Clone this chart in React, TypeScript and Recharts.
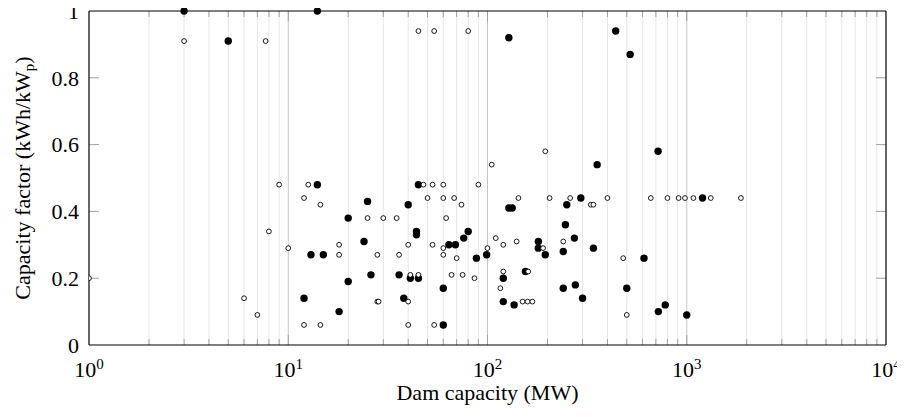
import React from 'react';
import { ScatterChart, Scatter, XAxis, YAxis, ReferenceLine, Label } from 'recharts';

// filled markers
const filledCapacity = [
  3, 5, 14, 128, 440, 520, 718, 355,
  14, 45, 25, 40, 20, 44, 44, 80, 76, 24, 64, 69,
  13, 15, 88, 99, 26, 36, 41, 45, 20, 60, 12, 38, 18, 60,
  128, 133, 250, 246, 273, 180, 180, 195, 240, 340, 294, 1200, 610,
  120, 155, 120, 136, 240, 276, 300, 500, 720, 780, 1000,
];
const filledFactor = [
  1.0, 0.91, 1.0, 0.92, 0.94, 0.87, 0.58, 0.54,
  0.48, 0.48, 0.43, 0.42, 0.38, 0.34, 0.33, 0.34, 0.32, 0.31, 0.3, 0.3,
  0.27, 0.27, 0.26, 0.27, 0.21, 0.21, 0.2, 0.2, 0.19, 0.17, 0.14, 0.14, 0.1, 0.06,
  0.41, 0.41, 0.42, 0.36, 0.32, 0.31, 0.29, 0.27, 0.28, 0.29, 0.44, 0.44, 0.26,
  0.2, 0.22, 0.13, 0.12, 0.17, 0.18, 0.14, 0.17, 0.1, 0.12, 0.09,
];

// open markers
const openCapacity = [
  3, 7.7, 45, 54, 80, 195, 105, 6, 7, 8, 9, 10, 1,
  12.6, 47.7, 53, 60, 90,
  12, 50, 60, 68,
  14.5, 74,
  25, 30, 35, 62,
  18, 40, 53, 60, 100,
  18, 28, 36, 60, 70,
  41, 45, 66, 75, 86,
  28, 28.4, 40,
  12, 14.5, 40, 54,
  143, 205, 260, 400, 660, 800, 910, 980, 1080, 1320, 1870,
  330, 340,
  110, 120, 140, 240, 190, 480, 120, 160, 116, 150, 159, 168, 500,
];
const openFactor = [
  0.91, 0.91, 0.94, 0.94, 0.94, 0.58, 0.54, 0.14, 0.09, 0.34, 0.48, 0.29, 0.2,
  0.48, 0.48, 0.48, 0.48, 0.48,
  0.44, 0.44, 0.44, 0.44,
  0.42, 0.42,
  0.38, 0.38, 0.38, 0.38,
  0.3, 0.3, 0.3, 0.29, 0.29,
  0.27, 0.27, 0.27, 0.27, 0.26,
  0.21, 0.21, 0.21, 0.21, 0.2,
  0.13, 0.13, 0.13,
  0.06, 0.06, 0.06, 0.06,
  0.44, 0.44, 0.44, 0.44, 0.44, 0.44, 0.44, 0.44, 0.44, 0.44, 0.44,
  0.42, 0.42,
  0.32, 0.3, 0.31, 0.31, 0.29, 0.26, 0.22, 0.22, 0.17, 0.13, 0.13, 0.13, 0.09,
];

const xTicks = [1, 10, 100, 1000, 10000];
const yTicks = [0, 0.2, 0.4, 0.6, 0.8, 1];
const decades = [1, 10, 100, 1000];
const minorSteps = [2, 3, 4, 5, 6, 7, 8, 9];

const filledData = filledCapacity.map((x, i) => ({ x, y: filledFactor[i] }));
const openData = openCapacity.map((x, i) => ({ x, y: openFactor[i] }));
const minorX = decades.flatMap((d) => minorSteps.map((m) => d * m));
const majorX = [10, 100, 1000];

const FONT = '"Liberation Serif", "Times New Roman", serif';

function LogTick({ x, y, payload }: any) {
  const exp = Math.round(Math.log10(payload.value));
  return (
    <text x={x} y={y + 22} textAnchor="middle" fill="#000" fontSize={22} fontFamily={FONT}>
      10<tspan fontSize={15} dy={-8}>{exp}</tspan>
    </text>
  );
}

export default function App() {
  return (
    <div style={{ fontFamily: FONT, margin: '-8px 0 0 -8px', width: 905, height: 417 }}>
      <ScatterChart width={905} height={417} margin={{ top: 11, right: 19, bottom: 0, left: 0 }}>
        {/* grid */}
        {minorX.map((v) => (
          <ReferenceLine key={'g' + v} x={v} stroke="#e6e6e6" strokeWidth={1} />
        ))}
        {majorX.map((v) => (
          <ReferenceLine key={'G' + v} x={v} stroke="#c4c4c4" strokeWidth={1} />
        ))}
        {/* inward ticks */}
        {minorX.map((v) => (
          <ReferenceLine key={'tb' + v} segment={[{ x: v, y: 0 }, { x: v, y: 0.018 }]} stroke="#a0a0a0" />
        ))}
        {minorX.map((v) => (
          <ReferenceLine key={'tt' + v} segment={[{ x: v, y: 1 }, { x: v, y: 0.982 }]} stroke="#a0a0a0" />
        ))}
        {majorX.map((v) => (
          <ReferenceLine key={'Tb' + v} segment={[{ x: v, y: 0 }, { x: v, y: 0.03 }]} stroke="#a0a0a0" />
        ))}
        {majorX.map((v) => (
          <ReferenceLine key={'Tt' + v} segment={[{ x: v, y: 1 }, { x: v, y: 0.97 }]} stroke="#a0a0a0" />
        ))}
        {yTicks.slice(1, -1).map((v) => (
          <ReferenceLine key={'yl' + v} segment={[{ x: 1, y: v }, { x: 1.1225, y: v }]} stroke="#a0a0a0" />
        ))}
        {yTicks.slice(1, -1).map((v) => (
          <ReferenceLine key={'yr' + v} segment={[{ x: 8909, y: v }, { x: 10000, y: v }]} stroke="#a0a0a0" />
        ))}
        {/* frame top/right */}
        <ReferenceLine y={1} stroke="#000" strokeWidth={1.2} />
        <ReferenceLine x={10000} stroke="#000" strokeWidth={1.2} />

        <XAxis
          type="number"
          dataKey="x"
          scale="log"
          domain={[1, 10000]}
          ticks={xTicks}
          allowDataOverflow
          height={72}
          tickLine={false}
          tickSize={8}
          tickMargin={2}
          axisLine={{ stroke: '#000', strokeWidth: 1.2 }}
          tick={<LogTick />}
          interval={0}
        >
          <Label
            content={({ viewBox }: any) => (
              <text
                x={viewBox.x + viewBox.width / 2}
                y={viewBox.y + 55}
                textAnchor="middle"
                fontSize={22}
                fill="#000"
                fontFamily={FONT}
              >
                Dam capacity (MW)
              </text>
            )}
          />
        </XAxis>
        <YAxis
          type="number"
          dataKey="y"
          domain={[0, 1]}
          ticks={yTicks}
          width={89}
          tickLine={false}
          tickSize={8}
          tickMargin={2}
          interval={0}
          axisLine={{ stroke: '#000', strokeWidth: 1.2 }}
          tick={{ fill: '#000', fontSize: 22, fontFamily: FONT }}
        >
          <Label
            content={({ viewBox }: any) => (
              <text
                transform={`translate(30, ${viewBox.y + viewBox.height / 2}) rotate(-90)`}
                textAnchor="middle"
                fontSize={22}
                fill="#000"
                fontFamily={FONT}
              >
                Capacity factor (kWh/kW<tspan fontSize={15} dy={4}>p</tspan>
                <tspan dy={-4}>)</tspan>
              </text>
            )}
          />
        </YAxis>

        <Scatter
          data={filledData}
          isAnimationActive={false}
          shape={(p: any) => <circle cx={p.cx} cy={p.cy} r={3.7} fill="#000" />}
        />
        <Scatter
          data={openData}
          isAnimationActive={false}
          shape={(p: any) => (
            <circle cx={p.cx} cy={p.cy} r={2.4} fill="#fff" stroke="#000" strokeWidth={0.9} />
          )}
        />
      </ScatterChart>
    </div>
  );
}
